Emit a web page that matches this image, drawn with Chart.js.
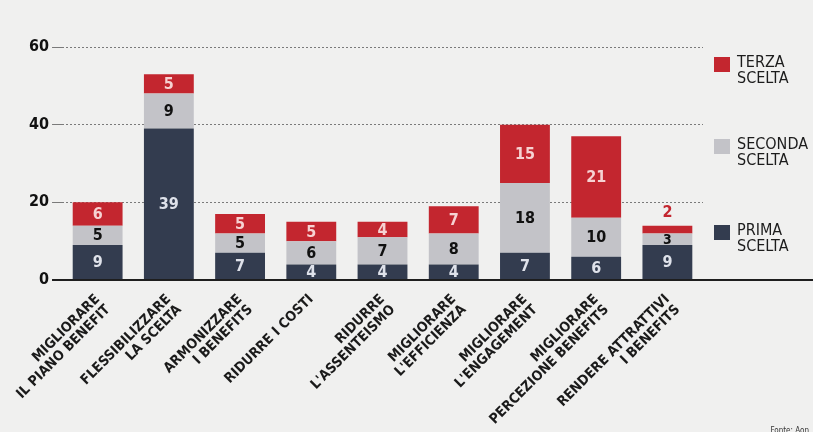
<!DOCTYPE html>
<html>
<head>
<meta charset="utf-8">
<script src="https://cdn.jsdelivr.net/npm/chart.js@4.4.1/dist/chart.umd.min.js"></script>
<style>
  html, body { margin: 0; padding: 0; background: #f0f0ef; }
  #wrap { position: relative; width: 813px; height: 432px; overflow: hidden; }
  #fonte { position: absolute; right: 4px; bottom: -3px; font: 8px 'Liberation Sans Narrow', 'DejaVu Sans Condensed', sans-serif; color: #333; }
</style>
</head>
<body>
<div id="wrap">
  <canvas id="chart" width="813" height="432"></canvas>
  <div id="fonte">Fonte: Aon</div>
</div>
<script>
const categories = [
    ['MIGLIORARE', 'IL PIANO BENEFIT'],
    ['FLESSIBILIZZARE', 'LA SCELTA'],
    ['ARMONIZZARE', 'I BENEFITS'],
    'RIDURRE I COSTI',
    ['RIDURRE', "L'ASSENTEISMO"],
    ['MIGLIORARE', "L'EFFICIENZA"],
    ['MIGLIORARE', "L'ENGAGEMENT"],
    ['MIGLIORARE', 'PERCEZIONE BENEFITS'],
    ['RENDERE ATTRATTIVI', 'I BENEFITS']
];
const primaScelta = [9, 39, 7, 4, 4, 4, 7, 6, 9];
const secondaScelta = [5, 9, 5, 6, 7, 8, 18, 10, 3];
const terzaScelta = [6, 5, 5, 5, 4, 7, 15, 21, 2];
const yTicks = [0, 20, 40, 60];

const FONT = "'Liberation Sans Narrow', 'DejaVu Sans Condensed', sans-serif";
const colors = {
    prima: '#333c4f',
    seconda: '#c3c3c8',
    terza: '#c3262f'
};

// labels inside the segments, plus the solid zero line and the legend on the right
const overlayPlugin = {
    id: 'overlay',
    afterDatasetsDraw(chart) {
        const ctx = chart.ctx;
        const area = chart.chartArea;
        const y0 = chart.scales.y.getPixelForValue(0);

        ctx.save();
        ctx.strokeStyle = '#1e1e1e';
        ctx.lineWidth = 2;
        ctx.beginPath();
        ctx.moveTo(area.left - 10, y0);
        ctx.lineTo(chart.width, y0);
        ctx.stroke();

        const textColors = ['#dfe2ea', '#111111', '#f6d2d2'];
        ctx.textAlign = 'center';
        ctx.textBaseline = 'middle';
        chart.data.datasets.forEach((dataset, di) => {
            const meta = chart.getDatasetMeta(di);
            meta.data.forEach((bar, i) => {
                const value = dataset.data[i];
                const h = Math.abs(bar.base - bar.y);
                if (di === 2 && h < 10) {
                    // too thin for the number: put it above the bar
                    ctx.font = `bold 16px ${FONT}`;
                    ctx.fillStyle = colors.terza;
                    ctx.fillText(value, bar.x, bar.y - 13);
                } else {
                    ctx.font = h < 14 ? `bold 14px ${FONT}` : `bold 16px ${FONT}`;
                    ctx.fillStyle = textColors[di];
                    ctx.fillText(value, bar.x, (bar.y + bar.base) / 2 + 1);
                }
            });
        });
        ctx.restore();
    },
    afterDraw(chart) {
        const ctx = chart.ctx;
        const area = chart.chartArea;
        const items = [
            { color: colors.terza, lines: ['TERZA', 'SCELTA'], top: area.top + 9 },
            { color: colors.seconda, lines: ['SECONDA', 'SCELTA'], top: area.top + 91 },
            { color: colors.prima, lines: ['PRIMA', 'SCELTA'], top: area.top + 177 }
        ];
        const x = area.right + 11;
        ctx.save();
        ctx.font = `16px ${FONT}`;
        ctx.textAlign = 'left';
        ctx.textBaseline = 'top';
        items.forEach((item) => {
            ctx.fillStyle = item.color;
            ctx.fillRect(x, item.top + 1, 16, 15);
            ctx.fillStyle = '#1c1c1c';
            item.lines.forEach((line, li) => {
                ctx.fillText(line, x + 23, item.top - 1 + li * 16);
            });
        });
        ctx.restore();
    }
};

new Chart(document.getElementById('chart'), {
    type: 'bar',
    data: {
        labels: categories,
        datasets: [
            { label: 'PRIMA SCELTA', data: primaScelta, backgroundColor: colors.prima },
            { label: 'SECONDA SCELTA', data: secondaScelta, backgroundColor: colors.seconda },
            { label: 'TERZA SCELTA', data: terzaScelta, backgroundColor: colors.terza }
        ]
    },
    options: {
        responsive: false,
        animation: false,
        layout: {
            padding: { left: 26, top: 47, right: 110, bottom: 0 }
        },
        datasets: {
            bar: {
                categoryPercentage: 1,
                barPercentage: 0.7,
                borderWidth: 0
            }
        },
        scales: {
            x: {
                stacked: true,
                grid: { display: false },
                border: { display: false },
                afterFit(axis) {
                    // labels run off the bottom edge in the original, keep the plot height fixed
                    axis.height = 152;
                },
                ticks: {
                    maxRotation: 45,
                    minRotation: 45,
                    autoSkip: false,
                    padding: 4,
                    color: '#1a1a1a',
                    font: { family: FONT, size: 14, weight: 'bold', lineHeight: 1.05 }
                }
            },
            y: {
                stacked: true,
                min: 0,
                max: 60,
                afterBuildTicks(axis) {
                    axis.ticks = yTicks.map((v) => ({ value: v }));
                },
                grid: {
                    color: '#7a7a7a',
                    lineWidth: 1,
                    tickLength: 10
                },
                border: { display: false, dash: [2, 2] },
                ticks: {
                    padding: 3,
                    color: '#111',
                    font: { family: FONT, size: 16, weight: 'bold' }
                }
            }
        },
        plugins: {
            legend: { display: false },
            tooltip: { enabled: false }
        }
    },
    plugins: [overlayPlugin]
});
</script>
</body>
</html>
